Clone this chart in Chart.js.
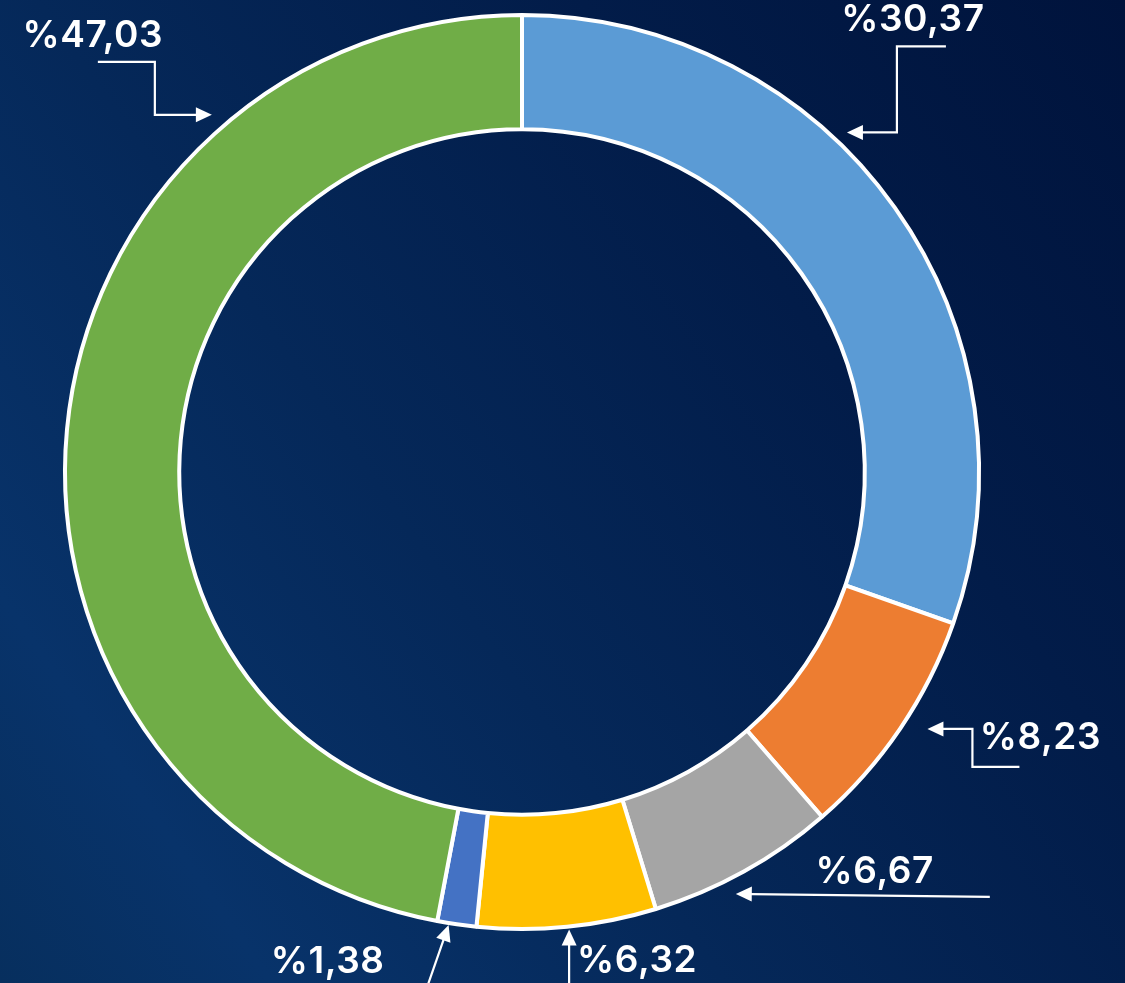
<!DOCTYPE html>
<html>
<head>
<meta charset="utf-8">
<script src="https://cdn.jsdelivr.net/npm/chart.js@4"></script>
<style>
  html, body { margin: 0; padding: 0; }
  body {
    width: 1125px; height: 983px; overflow: hidden;
    background: linear-gradient(235deg, #00133c 0%, #021c49 30%, #052859 60%, #08336a 85%, #072f5e 100%);
  }
  #wrap { position: relative; width: 1125px; height: 983px; }
</style>
</head>
<body>
<div id="wrap"><canvas id="c"></canvas></div>
<script>
// ---- data ----
const categories = ['A', 'B', 'C', 'D', 'E', 'F'];
const values = [30.37, 8.23, 6.67, 6.32, 1.38, 47.03];
const colors = ['#5B9BD5', '#ED7D31', '#A5A5A5', '#FFC000', '#4472C4', '#70AD47'];

// ---- callout layout (relative to arrow tip on each arc) ----
const callouts = [
  { t: 0.40, gap: 13, path: [[50, 0], [50, -86], [99, -86]], text: [66, -101] },
  { t: 0.44, gap: 23, path: [[45, 0], [45, 38], [92, 38]], text: [113, 20] },
  { t: 0.59, gap: 16, path: [[254, 3]], text: [139, -11] },
  { t: 0.49, gap: 3, path: [[0, 70]], text: [68, 42] },
  { t: 0.70, gap: 2, path: [[-26, 75]], text: [-121, 48] },
  { t: 0.758, gap: 16, path: [[-57, 0], [-57, -53], [-114, -53]], text: [-119, -68] }
];

const fmt = v => '%' + v.toFixed(2).replace('.', ',');

const calloutPlugin = {
  id: 'callouts',
  afterDraw(chart) {
    const ctx = chart.ctx;
    const meta = chart.getDatasetMeta(0);
    ctx.save();
    ctx.strokeStyle = '#ffffff';
    ctx.fillStyle = '#ffffff';
    ctx.lineWidth = 2.2;
    ctx.lineJoin = 'miter';
    meta.data.forEach((arc, i) => {
      const c = callouts[i];
      const p = arc.getProps(['x', 'y', 'startAngle', 'endAngle', 'outerRadius'], true);
      const a = p.startAngle + c.t * (p.endAngle - p.startAngle);
      const r = p.outerRadius + c.gap;
      const tx = p.x + r * Math.cos(a);
      const ty = p.y + r * Math.sin(a);
      const n = c.path[0];
      const len = Math.hypot(n[0], n[1]);
      const ux = -n[0] / len, uy = -n[1] / len;
      const headL = 16, headW = 7.5;
      const bx = tx - ux * headL, by = ty - uy * headL;
      ctx.beginPath();
      ctx.moveTo(bx + ux * 1, by + uy * 1);
      c.path.forEach(pt => ctx.lineTo(tx + pt[0], ty + pt[1]));
      ctx.stroke();
      ctx.beginPath();
      ctx.moveTo(tx, ty);
      ctx.lineTo(bx - uy * headW, by + ux * headW);
      ctx.lineTo(bx + uy * headW, by - ux * headW);
      ctx.closePath();
      ctx.fill();
      ctx.font = '600 37px Inter, "Open Sans", sans-serif';
      ctx.letterSpacing = '0.6px';
      ctx.textAlign = 'center';
      ctx.textBaseline = 'alphabetic';
      ctx.fillText(fmt(values[i]), tx + c.text[0], ty + c.text[1]);
    });
    ctx.restore();
  }
};

new Chart(document.getElementById('c'), {
  type: 'doughnut',
  data: {
    labels: categories,
    datasets: [{
      data: values,
      backgroundColor: colors,
      borderColor: '#ffffff',
      borderWidth: 4,
      hoverOffset: 0
    }]
  },
  options: {
    responsive: true,
    maintainAspectRatio: false,
    animation: false,
    cutout: '75%',
    layout: { padding: { left: 63, top: 13, right: 144, bottom: 52 } },
    plugins: { legend: { display: false }, tooltip: { enabled: false } }
  },
  plugins: [calloutPlugin]
});
</script>
</body>
</html>
